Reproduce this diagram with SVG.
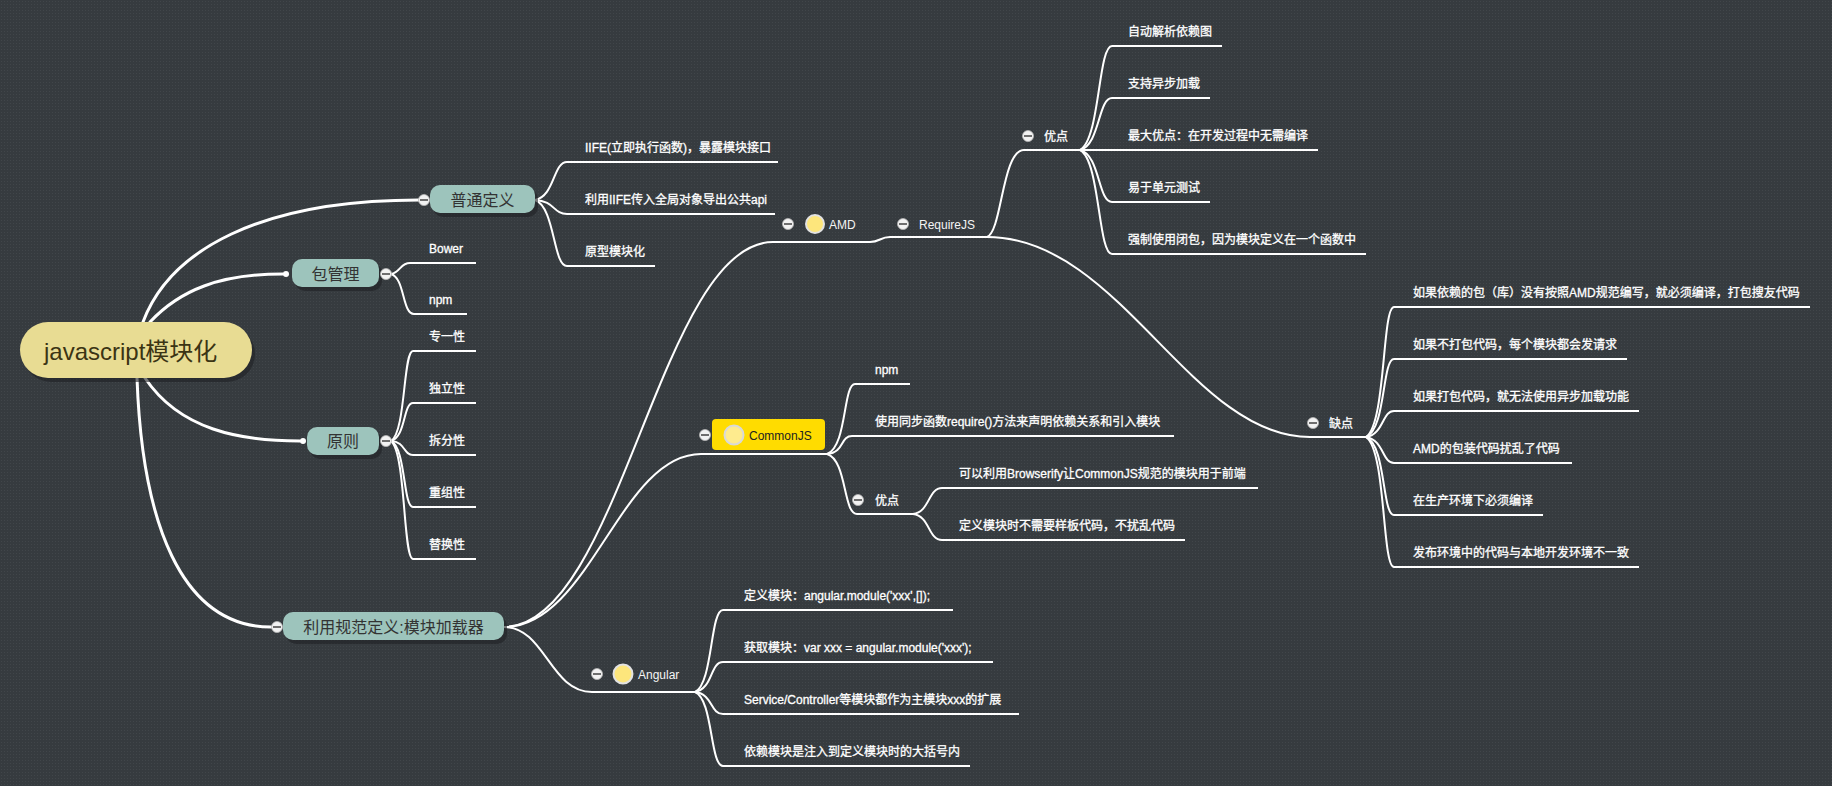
<svg xmlns="http://www.w3.org/2000/svg" width="1832" height="786" viewBox="0 0 1832 786">
<defs>
<pattern id="dots" width="3" height="3" patternUnits="userSpaceOnUse">
<rect width="3" height="3" fill="#363b3f"/>
<rect x="1" y="1" width="1" height="1" fill="#41464a"/>
</pattern>
<g id="collapse">
<circle r="5.5" fill="#f2f2f2" stroke="#b8b8b8" stroke-width="0.8"/>
<rect x="-4" y="-1" width="8" height="2" fill="#6e6e6e"/>
</g>
</defs>
<style>
.bg{fill:url(#dots)}
.br{fill:none;stroke:#ffffff;stroke-width:3;stroke-linecap:round}
.ln{fill:none;stroke:#ffffff;stroke-width:2}
.leaf{font-family:"Liberation Sans","Noto Sans CJK SC",sans-serif;font-size:12px;fill:#ffffff;stroke:#ffffff;stroke-width:0.3}
.lab{font-family:"Liberation Sans","Noto Sans CJK SC",sans-serif;font-size:12px;fill:#f4f4f4}
.main{font-family:"Liberation Sans","Noto Sans CJK SC",sans-serif;font-size:16px;fill:#333333;text-anchor:middle}
.box{fill:#9dc4bc}
.shadow{fill:#1f2225;opacity:0.6}
.icon{fill:#fde67c;stroke:#e2e2e2;stroke-width:2}
.dot{fill:#ffffff}
</style>
<rect class="bg" x="0" y="0" width="1832" height="786"/>

<g id="connectors">
<path class="br" d="M143,322 C170,250 260,200 419,200"/>
<path class="br" d="M150,322 C180,290 220,274 283,274"/>
<path class="br" d="M145,378 C180,430 240,441 300,441"/>
<path class="br" d="M137,378 C142,520 180,627 271,627"/>

<path class="ln" d="M535,200 C555,196 553,162 567,162 L778,162"/>
<path class="ln" d="M535,200 C555,201 553,214 567,214 L775,214"/>
<path class="ln" d="M535,200 C555,207 553,266 567,266 L655,266"/>

<path class="ln" d="M391,274 C401,272 400,263 410,263 L476,263"/>
<path class="ln" d="M391,274 C405,278 402,314 414,314 L467,314"/>

<path class="ln" d="M391,441 C406,432 403,351 413,351 L476,351"/>
<path class="ln" d="M391,441 C406,437 403,403 413,403 L476,403"/>
<path class="ln" d="M391,441 C406,442 403,455 413,455 L476,455"/>
<path class="ln" d="M391,441 C406,448 403,507 413,507 L476,507"/>
<path class="ln" d="M391,441 C406,453 403,559 413,559 L476,559"/>

<path class="ln" d="M504,627 C620,627 660,242 773,242 L870,242 C880,242 880,237 890,237 L987,237"/>
<path class="ln" d="M504,627 C590,627 620,454 701,454 L827,454"/>
<path class="ln" d="M504,627 C545,627 550,692 592,692 L695,692"/>

<path class="ln" d="M987,237 C1002,232 1002,150 1024,150 L1080,150"/>
<path class="ln" d="M987,237 C1120,237 1190,437 1310,437 L1366,437"/>

<path class="ln" d="M1080,150 C1100,140 1098,46 1112,46 L1222,46"/>
<path class="ln" d="M1080,150 C1100,145 1098,98 1112,98 L1210,98"/>
<path class="ln" d="M1080,150 L1318,150"/>
<path class="ln" d="M1080,150 C1100,155 1098,202 1112,202 L1210,202"/>
<path class="ln" d="M1080,150 C1100,160 1098,254 1112,254 L1366,254"/>

<path class="ln" d="M1366,437 C1386,424 1382,307 1394,307 L1810,307"/>
<path class="ln" d="M1366,437 C1386,429 1382,359 1394,359 L1627,359"/>
<path class="ln" d="M1366,437 C1384,434 1382,411 1394,411 L1639,411"/>
<path class="ln" d="M1366,437 C1384,440 1382,463 1394,463 L1572,463"/>
<path class="ln" d="M1366,437 C1386,445 1382,515 1394,515 L1543,515"/>
<path class="ln" d="M1366,437 C1386,450 1382,567 1394,567 L1639,567"/>

<path class="ln" d="M827,454 C847,447 843,384 855,384 L910,384"/>
<path class="ln" d="M827,454 C845,452 840,436 852,436 L1174,436"/>
<path class="ln" d="M827,454 C847,460 843,514 857,514 L913,514"/>
<path class="ln" d="M913,514 C930,512 928,488 942,488 L1258,488"/>
<path class="ln" d="M913,514 C930,516 928,540 942,540 L1185,540"/>

<path class="ln" d="M695,692 C713,684 710,610 723,610 L953,610"/>
<path class="ln" d="M695,692 C713,689 710,662 723,662 L993,662"/>
<path class="ln" d="M695,692 C713,694 710,714 723,714 L1019,714"/>
<path class="ln" d="M695,692 C713,699 710,766 723,766 L970,766"/>
</g>

<g id="root">
<rect x="23" y="326" width="232" height="56" rx="28" class="shadow"/>
<rect x="20" y="322" width="232" height="56" rx="28" fill="#e8dc93"/>
<text x="44" y="360" font-family="Liberation Sans, Noto Sans CJK SC, sans-serif" font-size="24" fill="#3b3414">javascript模块化</text>
</g>

<g id="n-putong">
<rect x="433" y="189" width="105" height="28" rx="10" class="shadow"/>
<rect x="430" y="185" width="105" height="28" rx="10" class="box"/>
<text x="482.5" y="205.5" class="main">普通定义</text>
<use href="#collapse" x="424" y="200"/>
</g>
<g id="l-iife"><text x="585" y="152" class="leaf">IIFE(立即执行函数)，暴露模块接口</text></g>
<g id="l-iife2"><text x="585" y="204" class="leaf">利用IIFE传入全局对象导出公共api</text></g>
<g id="l-proto"><text x="585" y="256" class="leaf">原型模块化</text></g>

<g id="n-bao">
<rect x="295" y="263" width="87" height="28" rx="10" class="shadow"/>
<rect x="292" y="259" width="87" height="28" rx="10" class="box"/>
<text x="335.5" y="279.5" class="main">包管理</text>
<circle cx="286" cy="274" r="3" class="dot"/>
<use href="#collapse" x="386" y="274"/>
</g>
<g id="l-bower"><text x="429" y="253" class="leaf">Bower</text></g>
<g id="l-npm1"><text x="429" y="304" class="leaf">npm</text></g>

<g id="n-yuanze">
<rect x="310" y="431" width="72" height="28" rx="10" class="shadow"/>
<rect x="307" y="427" width="72" height="28" rx="10" class="box"/>
<text x="343" y="447" class="main">原则</text>
<circle cx="303" cy="441" r="3" class="dot"/>
<use href="#collapse" x="386" y="441"/>
</g>
<g id="l-y1"><text x="429" y="341" class="leaf">专一性</text></g>
<g id="l-y2"><text x="429" y="393" class="leaf">独立性</text></g>
<g id="l-y3"><text x="429" y="445" class="leaf">拆分性</text></g>
<g id="l-y4"><text x="429" y="497" class="leaf">重组性</text></g>
<g id="l-y5"><text x="429" y="549" class="leaf">替换性</text></g>

<g id="n-guifan">
<rect x="286" y="616" width="221" height="28" rx="10" class="shadow"/>
<rect x="283" y="612" width="221" height="28" rx="10" class="box"/>
<text x="393.5" y="632.5" class="main">利用规范定义:模块加载器</text>
<use href="#collapse" x="277" y="627"/>
</g>

<g id="n-amd">
<use href="#collapse" x="788" y="224"/>
<circle cx="815" cy="224" r="9" class="icon"/>
<text x="829" y="229" class="lab">AMD</text>
</g>
<g id="n-requirejs">
<use href="#collapse" x="903" y="224"/>
<text x="919" y="229" class="lab">RequireJS</text>
</g>
<g id="n-rj-pro">
<use href="#collapse" x="1028" y="136"/>
<text x="1044" y="141" class="leaf">优点</text>
</g>
<g id="l-rp1"><text x="1128" y="36" class="leaf">自动解析依赖图</text></g>
<g id="l-rp2"><text x="1128" y="88" class="leaf">支持异步加载</text></g>
<g id="l-rp3"><text x="1128" y="140" class="leaf">最大优点：在开发过程中无需编译</text></g>
<g id="l-rp4"><text x="1128" y="192" class="leaf">易于单元测试</text></g>
<g id="l-rp5"><text x="1128" y="244" class="leaf">强制使用闭包，因为模块定义在一个函数中</text></g>

<g id="n-rj-con">
<use href="#collapse" x="1313" y="423"/>
<text x="1329" y="428" class="leaf">缺点</text>
</g>
<g id="l-rc1"><text x="1413" y="297" class="leaf">如果依赖的包（库）没有按照AMD规范编写，就必须编译，打包搜友代码</text></g>
<g id="l-rc2"><text x="1413" y="349" class="leaf">如果不打包代码，每个模块都会发请求</text></g>
<g id="l-rc3"><text x="1413" y="401" class="leaf">如果打包代码，就无法使用异步加载功能</text></g>
<g id="l-rc4"><text x="1413" y="453" class="leaf">AMD的包装代码扰乱了代码</text></g>
<g id="l-rc5"><text x="1413" y="505" class="leaf">在生产环境下必须编译</text></g>
<g id="l-rc6"><text x="1413" y="557" class="leaf">发布环境中的代码与本地开发环境不一致</text></g>

<g id="n-commonjs">
<use href="#collapse" x="705" y="435"/>
<rect x="712" y="419" width="113" height="31" rx="4" fill="#ffdc00"/>
<circle cx="734" cy="435" r="9.5" fill="#feeb8e" stroke="#d9d9d9" stroke-width="2"/>
<text x="749" y="440" font-family="Liberation Sans, Noto Sans CJK SC, sans-serif" font-size="12" fill="#222222">CommonJS</text>
</g>
<g id="l-cj1"><text x="875" y="374" class="leaf">npm</text></g>
<g id="l-cj2"><text x="875" y="426" class="leaf">使用同步函数require()方法来声明依赖关系和引入模块</text></g>
<g id="n-cj-pro">
<use href="#collapse" x="858" y="500"/>
<text x="875" y="505" class="leaf">优点</text>
</g>
<g id="l-cp1"><text x="959" y="478" class="leaf">可以利用Browserify让CommonJS规范的模块用于前端</text></g>
<g id="l-cp2"><text x="959" y="530" class="leaf">定义模块时不需要样板代码，不扰乱代码</text></g>

<g id="n-angular">
<use href="#collapse" x="597" y="674"/>
<circle cx="623" cy="674" r="9.5" class="icon"/>
<text x="638" y="679" class="lab">Angular</text>
</g>
<g id="l-an1"><text x="744" y="600" class="leaf">定义模块：angular.module('xxx',[]);</text></g>
<g id="l-an2"><text x="744" y="652" class="leaf">获取模块：var xxx = angular.module('xxx');</text></g>
<g id="l-an3"><text x="744" y="704" class="leaf">Service/Controller等模块都作为主模块xxx的扩展</text></g>
<g id="l-an4"><text x="744" y="756" class="leaf">依赖模块是注入到定义模块时的大括号内</text></g>
</svg>
